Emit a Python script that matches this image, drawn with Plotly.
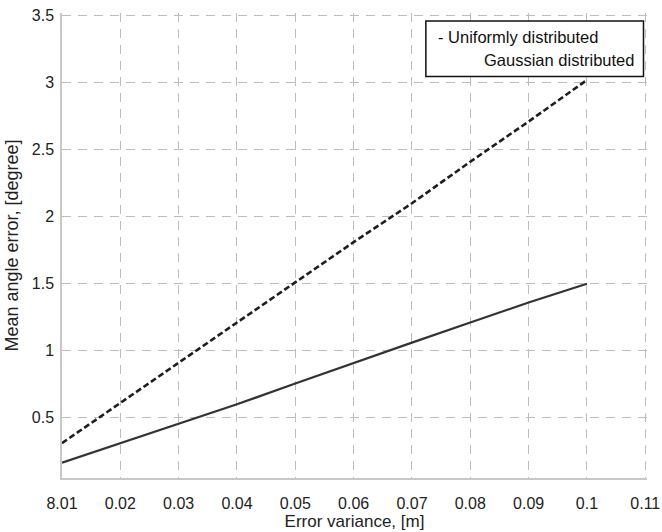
import plotly.graph_objects as go

# Data
x_vals = [0.01, 0.02, 0.03, 0.04, 0.05, 0.06, 0.07, 0.08, 0.09, 0.10]
uniform = [0.31, 0.61, 0.91, 1.21, 1.51, 1.81, 2.10, 2.41, 2.71, 3.02]
gaussian = [0.165, 0.31, 0.455, 0.60, 0.755, 0.91, 1.06, 1.21, 1.36, 1.50]

x_ticks = [0.01, 0.02, 0.03, 0.04, 0.05, 0.06, 0.07, 0.08, 0.09, 0.10, 0.11]
x_tick_text = ["8.01", "0.02", "0.03", "0.04", "0.05", "0.06", "0.07", "0.08", "0.09", "0.1", "0.11"]
y_ticks = [0.5, 1, 1.5, 2, 2.5, 3, 3.5]
y_tick_text = ["0.5", "1", "1.5", "2", "2.5", "3", "3.5"]

legend_lines = ["- Uniformly distributed", "Gaussian distributed"]

FONT = "Liberation Sans, Arial, sans-serif"

fig = go.Figure()
fig.add_trace(go.Scatter(x=x_vals, y=uniform, mode="lines",
                         line=dict(color="#1e1e1e", width=2.6, dash="6px,3px"),
                         showlegend=False))
fig.add_trace(go.Scatter(x=x_vals, y=gaussian, mode="lines",
                         line=dict(color="#333333", width=2.2),
                         showlegend=False))

grid = dict(showgrid=True, gridcolor="#bdbdbd", gridwidth=1, griddash="9px,7px",
            zeroline=False, showline=True, linecolor="#c8c8c8", linewidth=1.5,
            ticklabeloverflow="allow")

fig.update_layout(
    width=662, height=532,
    margin=dict(l=62, r=15, t=13, b=54, autoexpand=False),
    paper_bgcolor="white", plot_bgcolor="white",
    font=dict(family=FONT, color="#222222", size=16),
    xaxis=dict(range=[0.01, 0.1103], tickvals=x_ticks, ticktext=x_tick_text,
               ticks="outside", ticklen=10, tickcolor="rgba(0,0,0,0)",
               tickfont=dict(size=16, color="#222222"),
               title=dict(text="Error variance, [m]", font=dict(size=17), standoff=3),
               **grid),
    yaxis=dict(range=[0.05, 3.52], tickvals=y_ticks, ticktext=y_tick_text,
               ticks="outside", ticklen=3, tickcolor="rgba(0,0,0,0)",
               tickfont=dict(size=16, color="#222222"),
               title=dict(text="Mean angle error, [degree]", font=dict(size=18), standoff=8),
               **grid),
    shapes=[dict(type="rect", xref="paper", yref="paper",
                 x0=0.622, x1=0.994, y0=0.8636, y1=0.9827,
                 line=dict(color="#111111", width=1.5), fillcolor="white", layer="above")],
    annotations=[
        dict(text=legend_lines[0], xref="paper", yref="paper", x=0.639, y=0.948,
             xanchor="left", yanchor="middle", showarrow=False,
             font=dict(size=16.5, color="#111111")),
        dict(text=legend_lines[1], xref="paper", yref="paper", x=0.982, y=0.898,
             xanchor="right", yanchor="middle", showarrow=False,
             font=dict(size=16.5, color="#111111")),
    ],
)

# remove the page's default 8px body margin so the figure fills the window exactly
fig.write_html("out.html", config={"displayModeBar": False},
               post_script="document.body.style.margin='0';")
